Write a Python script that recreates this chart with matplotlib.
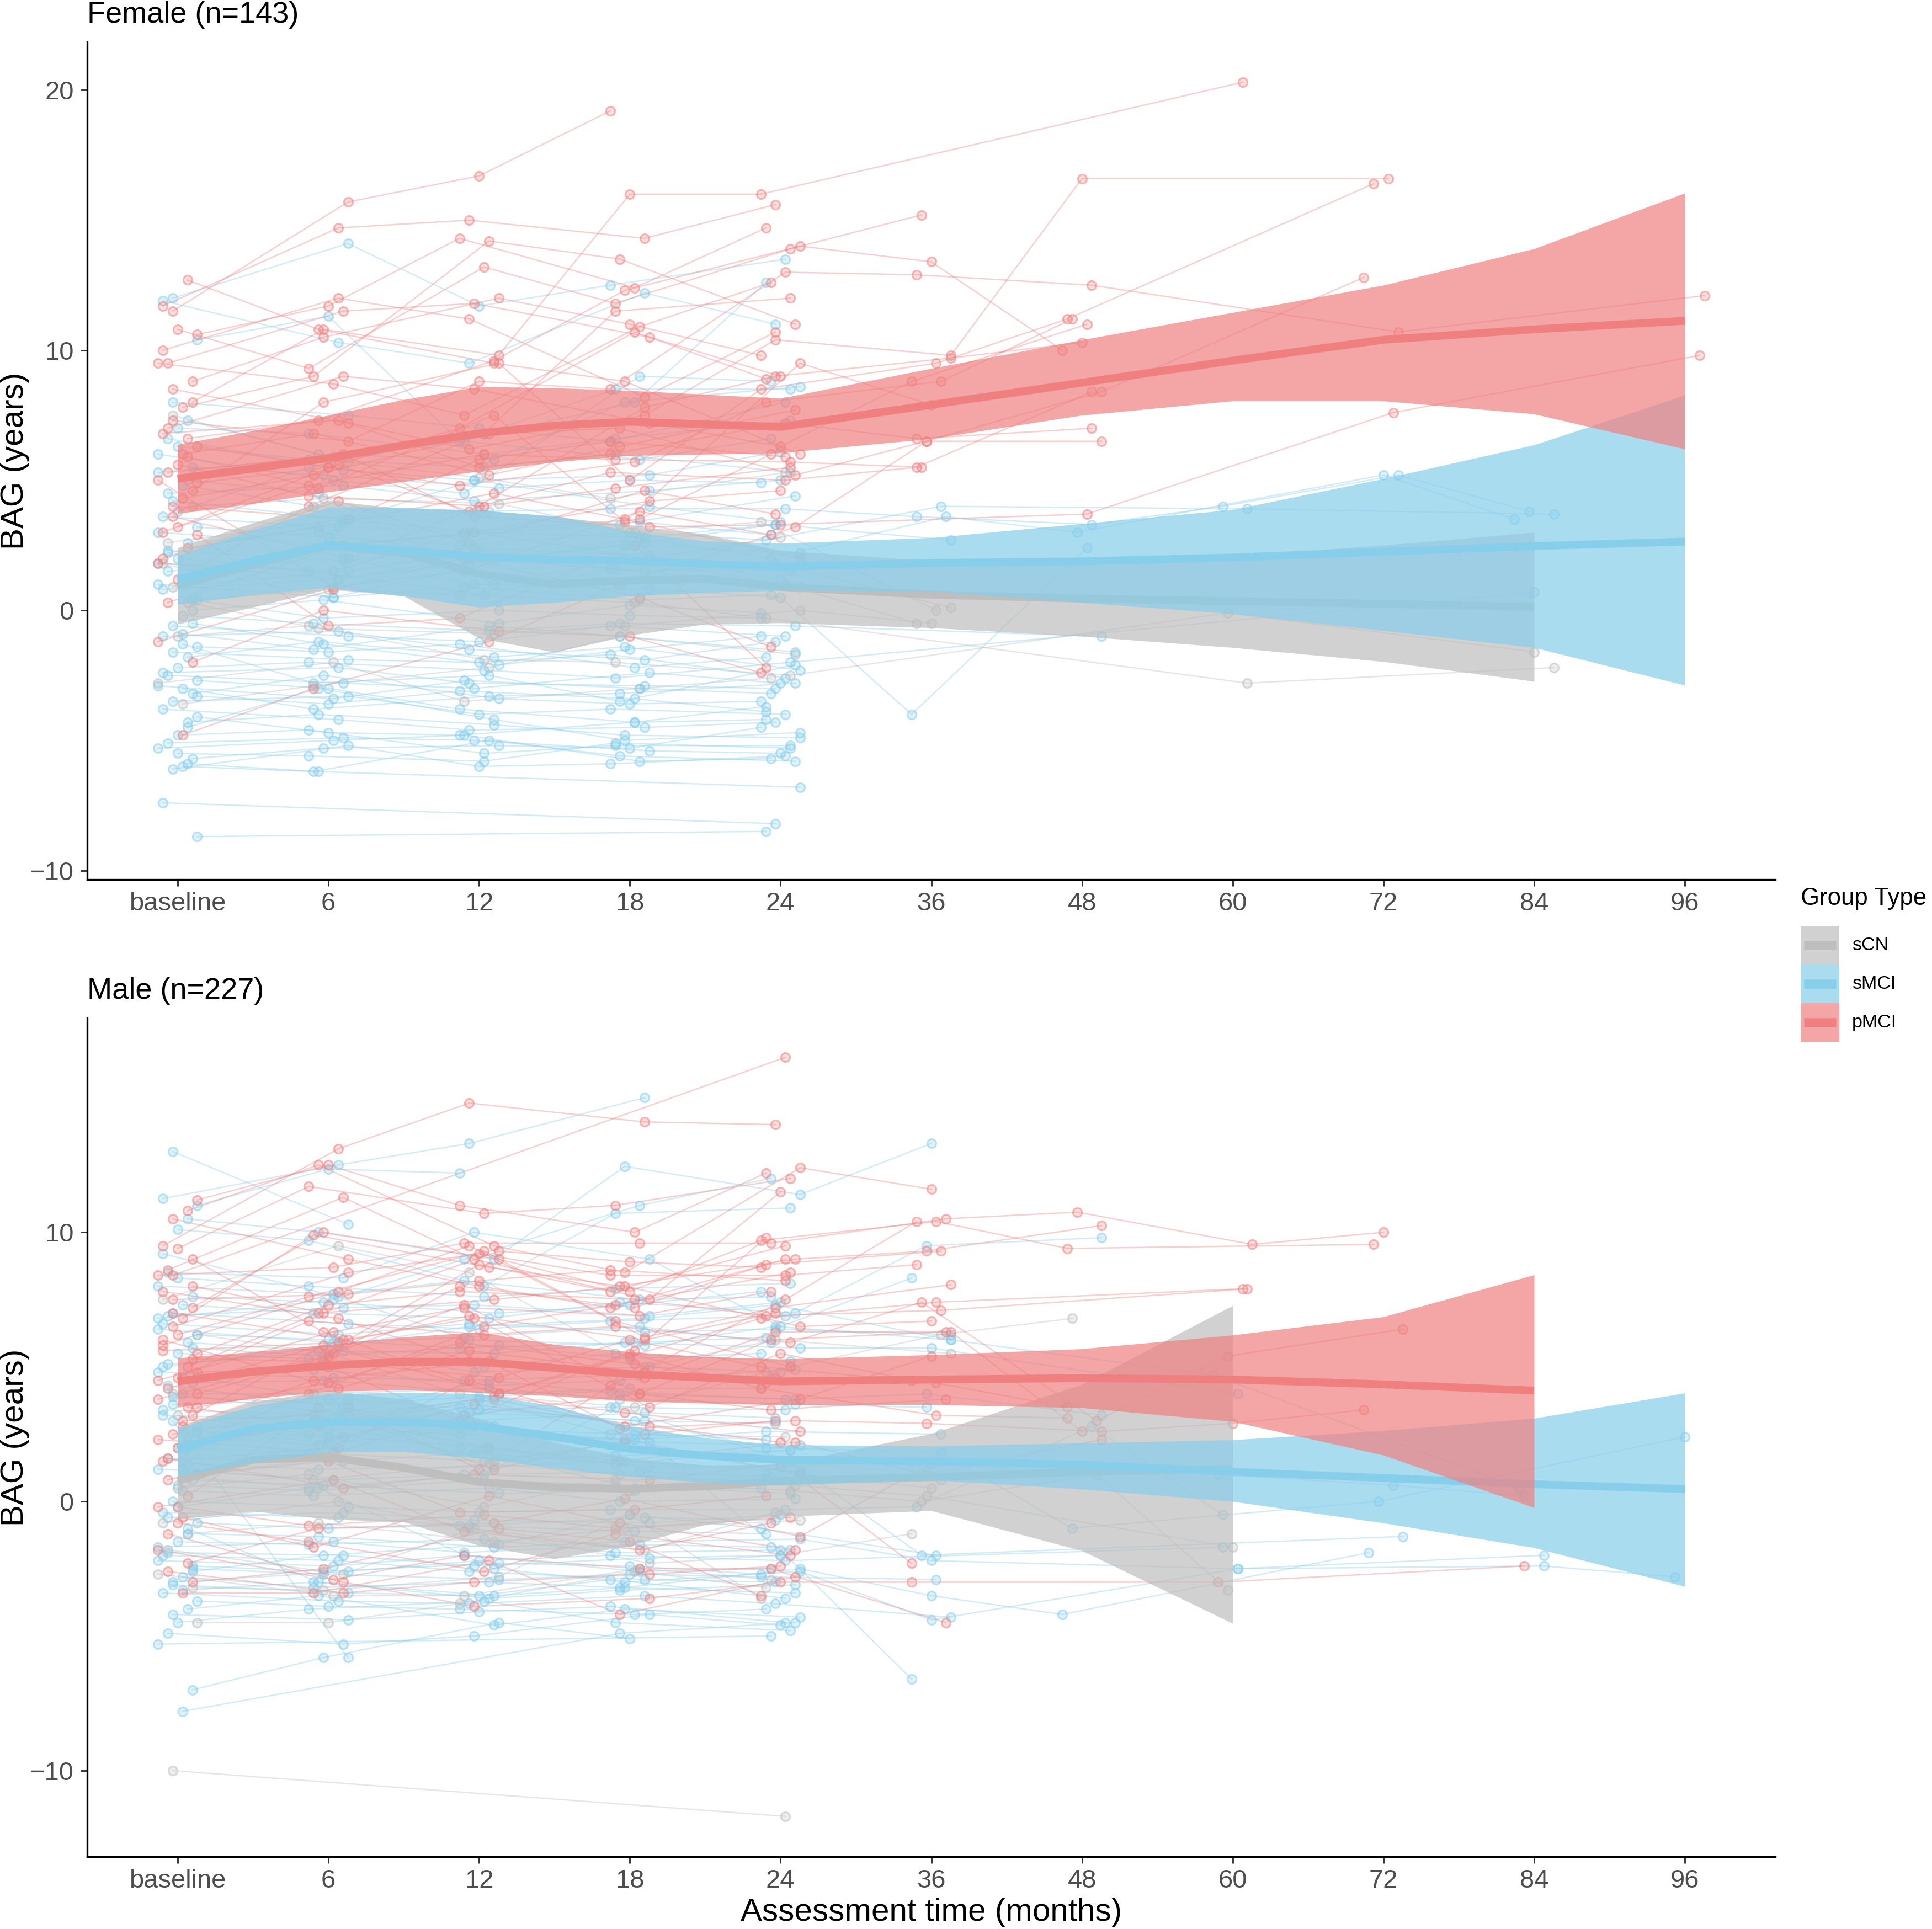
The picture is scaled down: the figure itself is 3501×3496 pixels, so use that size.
import matplotlib
matplotlib.use("Agg")
import matplotlib.pyplot as plt
from matplotlib.patches import Rectangle
from matplotlib.colors import to_rgba

plt.rcParams['font.family'] = ['Liberation Sans', 'DejaVu Sans']

N = None
visit_labels = ["baseline", "6", "12", "18", "24", "36", "48", "60", "72", "84", "96"]
groups = ["sCN", "sMCI", "pMCI"]
group_colors = {"sCN": "#BEBEBE", "sMCI": "#87CEEB", "pMCI": "#F08080"}
panel_titles = ["Female (n=143)", "Male (n=227)"]

# ---------------- individual trajectories (value per visit index, None = missing) ----------------
female_pMCI = [
    [11.5, 15.7, 16.7, 19.2],
    [11.7, 14.7, 15.0, 14.3, 15.6],
    [10.6, 11.7, 14.3, 12.4, 14.7],
    [12.7, 10.8, 9.5, 8.8, 6.0],
    [10.8, 9.3, 13.2, 11.8, 13.9, 15.2],
    [9.5, 11.5, 11.8, 10.5, 9.0],
    [9.5, 8.7, 7.5, 10.9, 12.6],
    [8.0, 10.8, 9.8, 16.0, 16.0, N, N, 20.3],
    [7.8, 9.0, 14.2, 13.5, 11.0],
    [7.3, 6.5, 8.8, 8.5, 13.0, 12.9, 12.5, N, 10.7, N, 12.1],
    [6.8, 7.3, 6.2, 7.5, 10.4, 9.8, 16.6, N, 16.6],
    [6.3, 5.5, 4.8, 5.7, 8.0, 8.8, 11.2],
    [5.9, 4.7, 7.5, 3.4, 9.5, 7.9],
    [5.6, 4.4, 4.0, 4.7, 5.5],
    [5.3, 6.0, 3.6, 3.2, 3.3, N, 3.7, N, 7.6, N, 9.8],
    [5.0, 0.9, 1.5, 3.8, 2.9],
    [4.6, 8.0, 9.5, 5.0, 8.5, 9.5, 11.2, N, 16.4],
    [4.3, 5.2, 6.8, 7.0, 5.2, 6.5, 6.5],
    [3.6, 2.0, 4.0, 5.3, 5.0, 5.5, 8.4],
    [3.0, 5.6, 3.8, 7.8, 9.0, 9.7, 10.3],
    [2.9, -0.6, -0.3, 2.5, -2.2],
    [2.4, 3.2, 4.5, 3.5, 2.0],
    [1.2, 4.0, 6.8, 11.5, 12.0],
    [0.3, 2.5, 3.0, 4.2, 4.6],
    [-1.2, 0.8, 2.0, 0.5, -1.4],
    [-2.0, 0.0, -0.8, -1.0, -2.4],
    [-4.8, -3.0, -1.2, 1.0, 3.2, 6.5, 8.4, N, 12.8],
    [8.5, 7.2, 5.5, 6.0, 7.2, 6.6, 7.0],
    [10.0, 12.0, 11.2, 8.2, 10.7],
    [4.9, 5.5, 7.0, 10.7, 8.9],
    [6.6, 7.3, 9.6, 12.3, 14.0, 13.4, 10.0],
    [3.2, 4.8, 6.0, 5.8, 5.7, 5.5],
    [7.0, 9.0, 8.5, 7.2, 6.3, 8.8, 11.0],
    [1.8, 1.5, 3.0, 3.5, 6.0],
    [8.8, 10.5, 12.0, 11.0, 9.8],
    [6.0, 6.8, 5.2, 6.3, 7.7],
    [4.0, 3.5, 5.8, 6.5, 5.9],
    [2.0, 4.2, 2.6, 4.6, 3.7],
]
female_sMCI = [
    [12.0, 14.1, 11.7, 12.5, 13.5],
    [11.9, 10.3, 9.5, 12.2, 11.0],
    [10.4, 11.3, 6.5, 8.0, 12.6],
    [7.3, 6.0, 5.8, 8.0, 8.6],
    [7.0, 6.8, 6.0, 6.6, 7.3],
    [6.6, 5.4, 5.0, 5.2, 6.1],
    [6.0, 5.0, 4.5, 9.0, 8.8],
    [5.5, 5.2, 4.7, 5.0, 4.9],
    [4.8, 4.0, 3.8, 3.3, 4.4],
    [4.2, 3.5, 3.8, 3.9, 3.9, 3.6, 3.3, 4.0, 5.2, 3.8],
    [3.6, 3.2, 3.0, 2.8, 3.3],
    [3.2, 2.8, 2.5, 3.0, 2.7, 4.0, N, 3.9, N, 3.7],
    [2.6, 3.0, 2.0, 2.5, 2.2],
    [2.0, 1.5, 0.6, 1.6, 1.5],
    [1.5, 2.0, 1.0, 0.8, 0.5, -4.0, 2.4],
    [1.0, 0.5, 0.9, 0.4, 0.6],
    [0.4, -0.3, 0.0, -0.2, -0.3],
    [-0.2, -0.5, -0.8, -0.5, -0.6, N, -1.0],
    [-0.6, -1.0, -1.2, -0.6, -1.0],
    [-1.0, -0.8, -1.5, -1.9, -1.2],
    [-1.4, -1.6, -1.3, -2.2, -1.8],
    [-1.8, -1.2, -1.8, -1.4, -2.3],
    [-2.2, -2.0, -2.3, -2.6, -2.0, N, N, N, N, 0.7],
    [-2.5, -2.8, -3.0, -2.4, -2.8],
    [-2.9, -3.4, -2.7, -3.0, -3.2],
    [-3.2, -2.5, -3.4, -3.6, -3.5],
    [-3.0, -3.8, -3.3, -3.2, -2.8],
    [-3.5, -3.3, -4.0, -3.8, -4.0],
    [-3.8, -4.2, -4.6, -4.5, -4.3],
    [-4.1, -4.7, -4.8, -4.3, -3.7],
    [-4.5, -3.0, -4.2, -5.0, -4.7],
    [-4.8, -4.6, -5.5, -5.2, -5.2],
    [-5.1, -4.9, -5.0, -5.4, -5.5],
    [-5.3, -5.0, -4.8, -5.8, -5.7],
    [-5.7, -5.3, -5.2, -5.3, -4.5],
    [-6.0, -6.2, -5.0, -5.6, -5.8],
    [-6.1, -5.2, -6.0, -5.9, -5.6],
    [-7.4, N, N, N, -8.2],
    [-8.7, N, N, N, -8.5],
    [-5.9, -6.2, N, N, -6.8],
    [3.8, 5.5, 6.8, 8.5, 8.5],
    [2.2, 3.4, 5.0, 4.0, 3.4],
    [1.8, 0.5, 1.6, 2.8, 2.0, 3.6, 3.0, N, 5.2, 3.5],
    [-0.5, -1.3, -2.1, -1.5, -1.0],
    [-1.3, -2.8, -2.5, -3.5, -2.1],
    [8.0, 7.5, 7.0, 6.5, 8.0],
    [0.8, 1.2, 1.8, 2.6, 3.3, 2.7],
    [-2.7, -3.0, -3.8, -4.3, -4.2],
    [5.0, 4.5, 1.0, 2.0, 0.9],
    [6.3, 5.8, 5.5, 6.0, 5.3],
    [4.5, 4.8, 4.2, 4.6, 5.0],
    [3.0, 2.5, 2.9, 3.4, 2.9],
    [0.0, 0.4, -0.5, 0.2, -0.1],
    [-0.9, -1.5, -0.6, -1.0, -1.6],
    [-1.6, -1.9, -2.0, -1.7, -2.6],
    [-2.4, -2.2, -2.8, -2.9, -3.0],
    [-3.3, -3.6, -3.1, -3.4, -3.9],
    [-4.3, -4.0, -4.4, -4.8, -4.9],
    [-5.5, -5.6, -5.8, -5.1, -5.3],
    [2.3, 1.9, 2.4, 2.1, 1.2],
    [5.3, 5.9, 6.5, 5.8, 6.6],
]
female_sCN = [
    [7.5, 5.7, 5.1, 4.3, 5.3],
    [1.8, 1.2, 2.0, 1.5, 1.8, 0.1],
    [0.4, 0.8, 0.6, 0.3, -0.3, N, N, -2.8, N, -2.2],
    [0.3, -0.7, -0.9, -0.6, 0.0, -0.5],
    [-1.0, -0.6, -1.9, -2.0, -2.5, N, N, -0.1, N, -1.6],
    [2.6, 3.5, 3.0, 2.0, 2.8],
    [-2.8, -2.0, -3.5, -3.0, -2.6],
    [4.0, 4.3, 4.1, 3.0, 3.4, 0.0],
    [-3.6, -2.9, -2.2, -1.0, -1.7],
    [0.9, 1.5, 2.3, 1.6, 1.0, -0.5],
]
male_pMCI = [
    [8.4, N, N, N, 16.5],
    [9.5, 13.1, 14.8, 14.1, 14.0],
    [11.2, 12.5, 11.0, 10.0, 12.2],
    [10.8, 12.5, 9.5, 8.5, 12.4, 11.6],
    [9.4, 11.7, 10.7, 11.0, 12.0],
    [8.6, 11.3, 9.0, 7.5, 11.5],
    [8.4, 8.7, 9.6, 9.6, 9.6, 10.5, 10.75, 9.55, 10.0],
    [7.2, 10.0, 9.0, 7.8, 9.7, 10.4, 9.4, N, 9.55],
    [6.8, 9.9, 8.7, 8.0, 9.0, 9.3, 10.25],
    [6.5, 8.5, 9.2, 8.4, 8.4, 8.8],
    [5.8, 7.8, 9.5, 6.1, 7.2, 8.05],
    [5.5, 7.3, 7.8, 7.5, 6.9, 7.1, N, 7.9],
    [5.0, 7.0, 7.5, 8.0, 6.5, 6.7],
    [4.6, 6.7, 6.2, 6.5, 5.9, 7.4, 3.0, 5.4, 6.4],
    [4.2, 6.0, 6.8, 3.5, 5.5, 4.5],
    [3.8, 5.5, 7.3, 4.0, 6.0, 6.3],
    [3.2, 5.8, 4.0, 5.5, 4.2, 3.2, 3.1],
    [2.8, 4.5, 5.2, 2.7, 3.0, 2.9, 2.6, 2.9, 3.4],
    [2.5, 3.5, 1.2, 4.3, 7.5, 10.4],
    [1.5, 2.0, 4.5, 2.5, 3.0],
    [1.0, 1.5, -0.4, -0.3, 0.2],
    [0.2, 3.5, 1.2, 2.3, 1.0],
    [-0.8, -1.5, -2.6, -1.2, -2.0],
    [-1.2, -3.0, -3.9, -3.6, -3.0, -3.0, N, -3.0, N, -2.4],
    [-1.8, -2.9, -2.0, -2.5, -2.5, -4.5],
    [-3.0, -2.5, -1.0, -1.5, -3.5],
    [-3.4, -3.4, -2.2, -4.2, -2.8],
    [7.0, 6.0, 8.8, 7.8, 9.5],
    [6.0, 4.2, 5.6, 4.8, 4.6],
    [4.8, 5.0, 3.0, 5.6, 9.8],
    [3.5, 2.8, 3.8, 2.8, 3.8, 5.4],
    [2.0, 4.0, 6.5, 7.3, 8.5],
    [1.6, 0.5, 1.0, 0.8, 1.4, -2.3],
    [-0.2, 0.8, -1.1, -1.8, -0.8],
    [5.3, 5.2, 4.6, 6.0, 5.0, 4.4, 3.5],
    [3.0, 3.2, 2.0, 1.5, 2.2, 1.0, 2.3],
    [10.5, 9.0, 8.0, 7.2, 9.0],
    [7.8, 6.8, 5.2, 4.6, 6.3, 6.3, 2.6],
    [4.0, 5.4, 8.0, 7.2, 8.8, 9.3],
    [-2.3, -1.0, -0.8, 0.1, -1.3, 1.4],
    [6.2, 7.6, 9.3, 6.7, 5.0],
    [0.8, 2.4, 3.6, 2.8, 2.2],
    [2.3, 1.8, 3.2, 4.0, 3.4, 3.8],
    [9.0, 6.3, 4.0, 5.4, 6.8, 7.4, N, 7.9],
    [-0.6, -1.7, 0.2, -0.8, -1.8],
    [7.5, 7.7, 8.2, 8.6, 8.2],
    [5.6, 5.9, 6.9, 6.0, 7.0],
    [3.5, 4.4, 5.9, 5.1, 4.4],
    [2.1, 2.9, 3.9, 3.3, 2.6],
    [-0.2, -0.9, -0.5, -1.0, -0.6],
    [-2.6, -3.4, -3.0, -2.7, -2.4],
    [4.5, 6.3, 7.2, 6.9, 7.8],
    [8.0, 7.0, 9.3, 8.9, 8.7],
]
male_sMCI = [
    [13.0, 10.3],
    [11.25, 12.5, 13.3, 15.0],
    [11.0, 12.35, 12.2],
    [10.5, 10.0, 9.0, 12.45, 11.4, 13.3],
    [10.1, 9.7, 8.0, 10.7, 10.9],
    [8.5, 8.3, 10.0, 9.0, 6.5, 8.3],
    [8.0, 7.7, 8.2, 7.5, 7.6],
    [7.6, 7.4, 7.0, 7.3, 7.8],
    [7.3, 7.0, 6.8, 7.4, 7.0, 9.5, 9.8],
    [7.0, 6.6, 6.4, 6.7, 6.9],
    [6.6, 6.2, 6.6, 6.3, 6.4, 6.2],
    [6.2, 6.0, 5.7, 5.9, 6.1],
    [5.9, 5.6, 5.5, 5.9, 5.7, 5.7, N, 4.0],
    [5.5, 5.3, 5.0, 5.5, 5.2],
    [5.1, 5.6, 4.8, 5.0, 4.8],
    [4.8, 4.6, 4.5, 4.7, 4.6],
    [4.4, 4.5, 4.0, 4.2, 4.2],
    [4.0, 4.0, 4.2, 3.8, 3.6, 3.5],
    [3.6, 3.8, 3.4, 3.5, 3.4],
    [3.2, 3.0, 3.3, 3.0, 2.9],
    [2.8, 2.7, 2.5, 2.3, 2.6, 2.5],
    [2.4, 2.1, 2.8, 2.2, 2.1],
    [2.0, 1.8, 1.5, 1.7, 1.9],
    [1.6, 1.5, 1.8, 1.3, 1.3, 1.5, 1.2, 1.0, 0.6, 0.2],
    [1.2, 0.8, 1.0, 1.1, 0.9],
    [0.8, 0.6, 0.3, 0.4, 0.5],
    [0.4, 0.2, 0.5, 0.0, 0.1],
    [0.0, -0.2, -0.4, -0.3, -0.3, -0.2, 2.8, -0.5],
    [-0.4, -0.6, -0.9, -0.6, -0.7],
    [-0.8, -1.0, -0.9, -1.1, -1.2],
    [-1.2, -1.3, -1.7, -1.5, -1.4, -2.2, N, -2.5, N, -2.4, -2.8],
    [-1.5, -1.6, -1.4, -1.9, -1.8],
    [-1.9, -2.0, -2.4, -2.1, -2.0],
    [-2.2, -2.4, -2.0, -2.6, -2.5],
    [-2.5, -2.7, -2.9, -2.7, -2.8, -2.9],
    [-2.8, -3.2, -3.0, -3.2, -3.4],
    [-3.1, -3.4, -3.5, -2.9, -3.6],
    [-3.4, -3.7, -3.8, -3.5, -3.8, -4.3],
    [-3.7, -3.9, -4.0, -4.2, -4.0],
    [-4.0, -3.5, -4.6, -4.0, -4.3],
    [-4.5, -4.0, -3.7, -4.5, -4.8],
    [-4.9, -5.3, -5.0, -4.2, -4.6],
    [-5.3, N, N, N, -5.0],
    [-7.0, -5.8, -4.5, -5.1],
    [-7.8, N, N, -4.9, -4.5],
    [3.0, -5.8],
    [5.0, 5.8, 6.5, 6.8, 7.3, 6.0, N, 4.7, N, 0.5],
    [2.6, 2.2, 3.5, 3.0, 2.0, 1.8, -1.0, N, 0.0, N, 2.4],
    [0.9, 0.5, -2.5, -3.0, -2.6, -4.4, N, -2.5, N, -2.0],
    [-0.2, 0.5, 1.0, 3.5, 1.5, -2.0, N, N, -1.3],
    [4.3, 3.5, 2.8, 2.2, -1.8, -6.6],
    [6.8, 7.5, 9.0, 11.0, 12.0],
    [-2.6, -2.0, -1.6, -0.5, -1.0, -2.0],
    [1.8, 3.0, 4.5, 4.0, 3.8, 4.0, 3.2],
    [-3.0, -2.6, -2.2, -2.0, -2.2, N, N, -1.7],
    [9.2, 7.6, 6.0, 5.8, 6.5, 6.0],
    [4.6, 3.8, 2.0, 0.5, 1.0, 0.8],
    [-1.0, -3.0, -3.5, -3.2, -2.5, -3.5, -4.2, N, -1.9],
    [8.3, 8.0, 7.6, 7.9, 8.1],
    [6.9, 7.2, 7.3, 6.9, 7.4],
    [6.4, 5.9, 6.1, 6.5, 5.9],
    [5.7, 5.4, 5.8, 5.3, 5.5],
    [4.6, 4.9, 4.3, 4.5, 4.9],
    [3.9, 3.6, 3.9, 4.1, 3.8],
    [3.4, 3.2, 3.0, 3.3, 3.1],
    [2.6, 2.4, 2.7, 2.5, 2.3],
    [1.4, 1.2, 1.3, 1.5, 1.1],
    [0.6, 0.4, 0.8, 0.6, 0.3],
    [-0.6, -0.4, -0.7, -0.8, -0.5],
    [-1.7, -1.5, -1.9, -1.6, -1.7],
    [-2.4, -2.6, -2.3, -2.4, -2.7],
    [-3.3, -3.0, -3.6, -3.3, -3.1],
    [-4.2, -4.4, -4.1, -3.9, -4.5],
    [-2.0, -2.2, -2.6, -2.9, -3.0],
    [1.0, 1.6, 0.9, 0.4, 0.8],
]
male_sCN = [
    [-10.0, N, N, N, -11.7],
    [7.5, 9.5, 8.5, 5.0, 6.0, 5.5],
    [6.2, 5.5, 4.0, 3.5, 4.8, 6.2, 6.8],
    [2.0, 3.0, 1.5, 2.2, 1.0, 0.5],
    [0.5, 1.0, -0.2, 0.8, 0.4, 0.0, 1.0, -3.3],
    [-1.8, -2.7, -1.0, -2.3, -2.0, -1.2],
    [-2.7, -3.5, -3.5, -2.5, -2.9],
    [-3.2, -3.3, -2.8, -0.5, -3.6],
    [1.2, 0.8, 1.4, 1.0, 0.6, 0.2, N, -1.7],
    [4.0, 3.2, 3.8, 2.5, 2.4],
    [-0.8, 0.0, -1.0, -1.8, -0.4],
    [-4.5, -4.5, -3.8, -2.6, -3.2],
    [-1.2, -0.8, -1.5, -1.0, -0.7],
    [3.2, 2.5, 2.0, 1.4, 1.9],
]

# ---------------- smoothed fits (fit, lower, upper) at visit positions ----------------
smooth_x = [0, 0.5, 1, 1.5, 2, 2.5, 3, 3.5, 4, 5, 6, 7, 8, 9, 10]

female_fit = {
    "sCN": dict(
        fit=[0.95, 1.75, 2.5, 2.2, 1.4, 1.0, 1.15, 1.2, 0.9, 0.6, 0.45, 0.35, 0.25, 0.13],
        lo=[-0.53, 0.12, 0.82, 0.55, -1.07, -1.61, -0.96, -0.53, -0.48, -0.67, -1.0, -1.43, -1.97, -2.73],
        hi=[2.4, 3.36, 4.22, 3.9, 3.84, 3.6, 3.25, 2.93, 2.3, 1.9, 1.9, 2.1, 2.5, 3.0]),
    "sMCI": dict(
        fit=[1.19, 1.9, 2.5, 2.3, 2.06, 1.95, 1.9, 1.78, 1.68, 1.82, 1.88, 2.03, 2.25, 2.47, 2.64],
        lo=[0.23, 0.6, 0.87, 0.55, 0.12, 0.3, 0.55, 0.68, 0.77, 0.74, 0.3, -0.13, -0.78, -1.43, -2.88],
        hi=[2.12, 3.1, 3.95, 3.95, 3.84, 3.63, 3.03, 2.66, 2.58, 2.79, 3.33, 3.87, 5.06, 6.36, 8.27]),
    "pMCI": dict(
        fit=[5.06, 5.45, 5.85, 6.35, 6.8, 7.1, 7.25, 7.15, 7.05, 7.9, 8.75, 9.6, 10.4, 10.8, 11.13],
        lo=[3.72, 4.1, 4.55, 4.95, 5.35, 5.7, 5.95, 6.0, 6.05, 6.6, 7.5, 8.05, 8.05, 7.55, 6.2],
        hi=[6.38, 6.9, 7.5, 8.1, 8.6, 8.55, 8.45, 8.3, 8.15, 9.3, 10.4, 11.45, 12.5, 13.9, 16.04]),
}
male_fit = {
    "sCN": dict(
        fit=[0.77, 1.55, 1.65, 1.25, 0.72, 0.52, 0.47, 0.56, 0.77, 0.9, 1.1, 1.2],
        lo=[-0.66, -0.36, -0.66, -0.76, -1.64, -2.13, -1.64, -0.86, -0.56, -0.34, -1.83, -4.53],
        hi=[2.75, 3.7, 4.12, 3.8, 3.09, 2.2, 1.6, 1.35, 1.37, 2.52, 4.35, 7.28]),
    "sMCI": dict(
        fit=[1.95, 2.7, 2.95, 2.95, 2.8, 2.4, 1.95, 1.7, 1.55, 1.49, 1.37, 1.1, 0.87, 0.64, 0.46],
        lo=[0.92, 1.45, 1.83, 1.85, 1.6, 1.25, 0.92, 0.7, 0.6, 0.8, 0.46, 0.0, -0.8, -1.72, -3.16],
        hi=[2.72, 3.55, 4.0, 4.05, 4.0, 3.55, 2.81, 2.36, 2.1, 2.06, 2.17, 2.29, 2.63, 3.09, 4.03]),
    "pMCI": dict(
        fit=[4.46, 4.82, 5.05, 5.19, 5.19, 4.96, 4.73, 4.6, 4.46, 4.53, 4.58, 4.53, 4.35, 4.12],
        lo=[3.5, 3.82, 4.09, 4.14, 4.05, 3.92, 3.73, 3.65, 3.59, 3.6, 3.48, 2.97, 1.72, -0.23],
        hi=[5.33, 5.56, 5.83, 6.11, 6.29, 5.83, 5.56, 5.38, 5.29, 5.45, 5.67, 6.18, 6.86, 8.42]),
}

female_traj = {"sCN": female_sCN, "sMCI": female_sMCI, "pMCI": female_pMCI}
male_traj = {"sCN": male_sCN, "sMCI": male_sMCI, "pMCI": male_pMCI}

# ---------------- figure ----------------
W, H = 3501, 3496
DPI = 300
fig = plt.figure(figsize=(W / DPI, H / DPI), dpi=DPI)

left_px, right_px = 158, 3217
panels = [
    dict(top=76.5, bottom=1594, ylim=(-10.35, 21.84), yticks=[-10, 0, 10, 20],
         traj=female_traj, fit=female_fit, title=panel_titles[0], title_base=41),
    dict(top=1845, bottom=3365, ylim=(-13.2, 17.96), yticks=[-10, 0, 10],
         traj=male_traj, fit=male_fit, title=panel_titles[1], title_base=1810),
]


def jitter(i, j):
    return 0.13 * ((((i * 7 + j * 5 + 3) % 9) - 4) / 4.0)


for p in panels:
    ax = fig.add_axes([left_px / W, 1 - p["bottom"] / H,
                       (right_px - left_px) / W, (p["bottom"] - p["top"]) / H])
    # individual trajectories
    for g in groups:
        col = group_colors[g]
        for i, tr in enumerate(p["traj"][g]):
            xs = [j + jitter(i, j) for j, v in enumerate(tr) if v is not None]
            ys = [v for v in tr if v is not None]
            ax.plot(xs, ys, color=col, alpha=0.38, lw=0.6, zorder=1)
            ax.scatter(xs, ys, s=15, facecolors=[to_rgba(col, 0.25)],
                       edgecolors=[to_rgba(col, 0.55)], linewidths=0.75, zorder=2)
    # smooth fits with confidence ribbons
    for k, g in enumerate(groups):
        col = group_colors[g]
        f = p["fit"][g]
        sx = smooth_x[:len(f["fit"])]
        ax.fill_between(sx, f["lo"], f["hi"], color=col, alpha=0.7, lw=0, zorder=3 + 2 * k)
        ax.plot(sx, f["fit"], color=col, lw=3.4, zorder=4 + 2 * k, solid_capstyle='butt')

    ax.set_xlim(-0.6, 10.6)
    ax.set_ylim(*p["ylim"])
    ax.set_xticks(range(len(visit_labels)))
    ax.set_xticklabels(visit_labels)
    ax.set_yticks(p["yticks"])
    for s in ["top", "right"]:
        ax.spines[s].set_visible(False)
    for s in ["left", "bottom"]:
        ax.spines[s].set_linewidth(0.8)
        ax.spines[s].set_color("black")
    ax.tick_params(axis="both", length=2.8, width=0.7, color="#333333",
                   labelsize=11.3, labelcolor="#4D4D4D")
    ax.tick_params(axis="x", pad=2.5)
    ax.tick_params(axis="y", pad=3.0)
    fig.text(27 / W, 1 - (p["top"] + p["bottom"]) / 2 / H, "BAG (years)", fontsize=14,
             rotation=90, ha="center", va="center", color="black")
    fig.text(left_px / W, 1 - p["title_base"] / H, p["title"], fontsize=13,
             ha="left", va="baseline", color="black")

fig.text((left_px + right_px) / 2 / W, 1 - 3466 / H, "Assessment time (months)",
         fontsize=14, ha="center", va="center", color="black")

# ---------------- legend ----------------
key_left, key_right = 3263, 3333
key_top, key_bottom = 1678, 1888
lax = fig.add_axes([key_left / W, 1 - key_bottom / H,
                    (key_right - key_left) / W, (key_bottom - key_top) / H])
lax.set_xlim(0, 1)
lax.set_ylim(0, 3)
lax.axis("off")
for k, g in enumerate(["pMCI", "sMCI", "sCN"]):
    col = group_colors[g]
    lax.add_patch(Rectangle((0, k), 1, 1, facecolor=col, alpha=0.7, edgecolor="none"))
    lax.plot([0.09, 0.91], [k + 0.5, k + 0.5], color=col, lw=4.0, solid_capstyle="butt")
legend_rows = {"sCN": 1713, "sMCI": 1783, "pMCI": 1853}
for g in groups:
    fig.text(3356 / W, 1 - legend_rows[g] / H, g, fontsize=8.2, ha="left", va="center",
             color="black")
fig.text(3263 / W, 1 - 1640 / H, "Group Type", fontsize=10.5, ha="left", va="baseline",
         color="black")

fig.savefig("out.png", dpi=DPI)
